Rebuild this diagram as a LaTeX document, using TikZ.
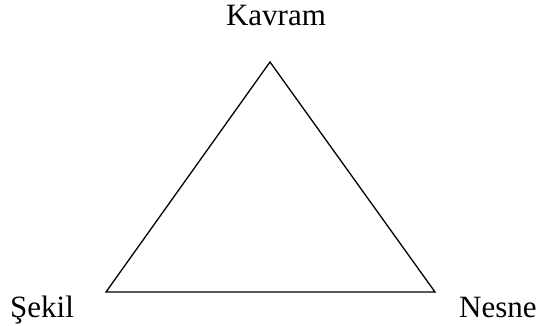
\documentclass[tikz,border=0pt]{standalone}
\usepackage{fontspec}
\setmainfont{Liberation Serif}
\begin{document}
\begin{tikzpicture}[x=1pt,y=1pt,
  lbl/.style={font=\fontsize{31}{36}\selectfont, inner sep=0pt},
  edge/.style={line width=1.3pt, line join=miter}]
\useasboundingbox (0,0) rectangle (539,326);
\coordinate (top) at (270,264);
\coordinate (bl) at (106,34);
\coordinate (br) at (435,34);
\node[lbl, anchor=base] (kavram) at (276,300) {Kavram};
\node[lbl, anchor=base west] (sekil) at (10,8) {Şekil};
\node[lbl, anchor=base west] (nesne) at (459,8) {Nesne};
\draw[edge] (top) -- (br) -- (bl) -- cycle;
\end{tikzpicture}
\end{document}
